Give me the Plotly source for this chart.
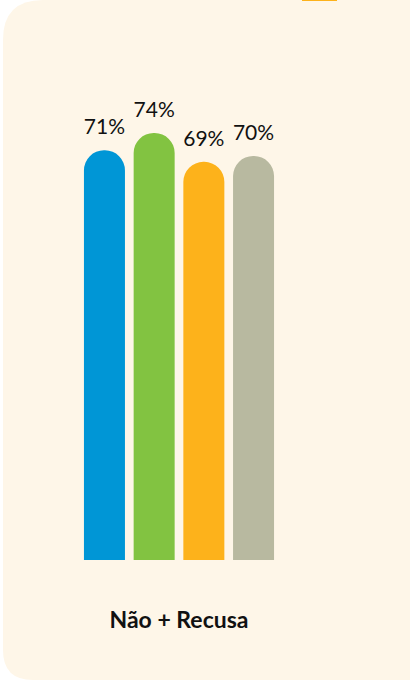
import plotly.graph_objects as go

categories = ["Não + Recusa"]
series_names = ["Série 1", "Série 2", "Série 3", "Série 4"]
series_values = [[71], [74], [69], [70]]
series_colors = ["#0096D6", "#82C341", "#FDB21B", "#B8B9A0"]

W, H = 410, 681
fig = go.Figure()
for i, (name, vals, col) in enumerate(zip(series_names, series_values, series_colors)):
    fig.add_trace(go.Bar(
        x=categories, y=vals, name=name, offsetgroup=str(i),
        marker=dict(color=col, cornerradius=20, line=dict(width=0)),
    ))
    fig.add_trace(go.Scatter(
        x=categories, y=vals, name=name, offsetgroup=str(i),
        mode="markers+text", marker=dict(size=16, opacity=0),
        text=[f"{v}%" for v in vals], textposition="top center",
        textfont=dict(family="Lato", size=21, color="#111111"),
        cliponaxis=False, hoverinfo="skip",
    ))

bg = "#FEF6E8"
x0 = 3 / W
rx1, ry1 = 40 / W, 40 / H
rx2, ry2 = 30 / W, 30 / H
yb = 1 - 680 / H
path = (f"M {x0+rx1},1 L 1.05,1 L 1.05,{yb} L {x0+rx2},{yb} "
        f"Q {x0},{yb} {x0},{yb+ry2} L {x0},{1-ry1} Q {x0},1 {x0+rx1},1 Z")

gap = 1 - 198.8 / 300
fig.update_layout(
    width=W, height=H,
    margin=dict(l=0, r=0, t=0, b=0),
    paper_bgcolor="white", plot_bgcolor="rgba(0,0,0,0)",
    showlegend=False,
    barmode="group", bargap=gap, bargroupgap=0.175,
    scattermode="group", scattergap=gap,
    xaxis=dict(domain=[29 / W, 329 / W], showgrid=False, zeroline=False,
               showline=False, ticks="", ticklabelstandoff=44,
               tickfont=dict(family="Lato", size=23, color="#111111", weight="bold")),
    yaxis=dict(domain=[(H - 560) / H, 1], range=[0, 560 / 5.77], visible=False),
    shapes=[
        dict(type="path", xref="paper", yref="paper", path=path,
             fillcolor=bg, line=dict(width=0), layer="below"),
        dict(type="rect", xref="paper", yref="paper", x0=302 / W, x1=337 / W,
             y0=1 - 1 / H, y1=1, fillcolor="#FDB21B", line=dict(width=0), layer="below"),
    ],
)
fig.write_html("out.html", config={"displayModeBar": False},
               post_script="document.body.style.margin='0';")
